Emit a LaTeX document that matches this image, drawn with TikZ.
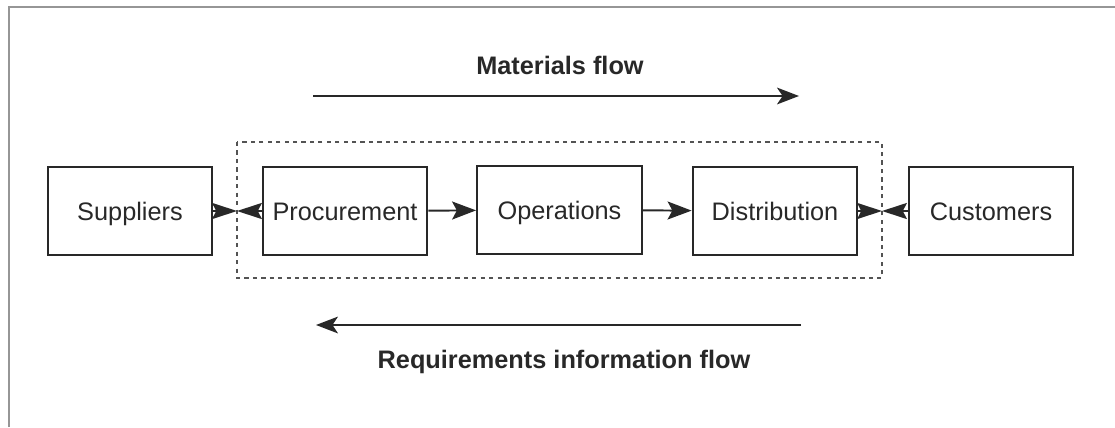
\documentclass[tikz,border=0pt]{standalone}
\usepackage{fontspec}
\setmainfont{Liberation Sans}
\usetikzlibrary{arrows.meta, positioning}
\definecolor{inkgray}{RGB}{40,40,40}
\definecolor{framegray}{RGB}{150,150,150}

\begin{document}
\begin{tikzpicture}[x=0.025cm, y=-0.025cm,
    stagebox/.style={draw=inkgray, line width=1.4pt, minimum width=4.12cm, minimum height=2.22cm, inner sep=0pt, text height=13pt, text depth=0pt, font=\fontsize{18}{20}\selectfont, text=inkgray},
    flowlabel/.style={font=\bfseries\fontsize{18}{20}\selectfont, text=inkgray},
    flowarrow/.style={draw=inkgray, line width=1.1pt, -{Stealth[length=0.55cm, width=0.42cm, inset=0.14cm]}},
    linkarrow/.style={draw=inkgray, line width=1.4pt, -{Stealth[length=0.6cm, width=0.45cm, inset=0.12cm]}},
    borderarrow/.style={draw=inkgray, line width=1.4pt, -{Stealth[length=0.62cm, width=0.4cm, inset=0.1cm]}}]
    \useasboundingbox (0,0) rectangle (1115,427);

    % Page frame
    \draw[framegray, line width=0.8pt] (9,427) -- (9,7) -- (1115,7);

    % Firm boundary
    \draw[inkgray!80, line width=1pt, dash pattern=on 3pt off 3pt] (237,142) rectangle (882,278);
    \coordinate (inbound) at (237,211);
    \coordinate (outbound) at (882,211);

    % Stages of the chain
    \node[stagebox] (suppliers) at (130,211) {Suppliers};
    \node[stagebox] (procurement) at (345,211) {Procurement};
    \node[stagebox] (operations) at (559.5,210) {Operations};
    \node[stagebox] (distribution) at (775,211) {Distribution};
    \node[stagebox] (customers) at (991,211) {Customers};

    % Links
    \draw[borderarrow] (suppliers.east) -- (inbound);
    \draw[borderarrow] (procurement.west) -- (inbound);
    \draw[linkarrow] (procurement) -- (operations);
    \draw[linkarrow] (operations) -- (distribution);
    \draw[borderarrow] (distribution.east) -- (outbound);
    \draw[borderarrow] (customers.west) -- (outbound);

    % Flows
    \node[flowlabel] (matlabel) at (560,65) {Materials flow};
    \coordinate (matstart) at (313,96);
    \coordinate (matend) at (799,96);
    \draw[flowarrow] (matstart) -- (matend);

    \coordinate (reqstart) at (801,325);
    \coordinate (reqend) at (316,325);
    \draw[flowarrow] (reqstart) -- (reqend);
    \node[flowlabel] (reqlabel) at (564,362) {Requirements information flow};
\end{tikzpicture}
\end{document}
